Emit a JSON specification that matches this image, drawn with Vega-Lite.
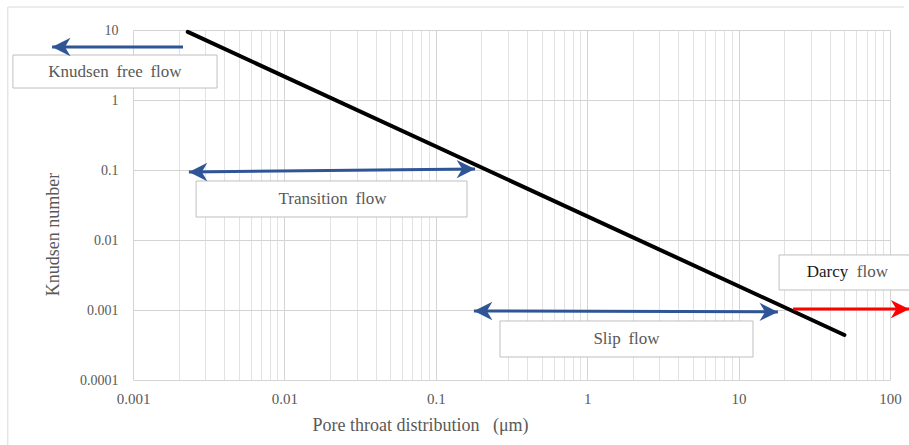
{
  "$schema": "https://vega.github.io/schema/vega-lite/v6.json",
  "width": 757,
  "height": 350,
  "autosize": {"type": "none"},
  "padding": {"left": 133, "top": 30, "right": 19, "bottom": 65},
  "background": "white",
  "config": {"view": {"stroke": null}, "font": "Liberation Serif"},
  "datasets": {
    "frame": [
      {"x": 0.000149, "x2": 123.7, "y": 21.3, "y2": 21.3},
      {"x": 0.000149, "x2": 0.000149, "y": 21.3, "y2": 0.000001}
    ],
    "boxes": [
      {"box": "Knudsen", "x": 0.000161, "x2": 0.00359, "y": 4.39, "y2": 1.483},
      {"box": "Transition", "x": 0.00261, "x2": 0.1607, "y": 0.0697, "y2": 0.0213},
      {"box": "Slip", "x": 0.2655, "x2": 12.45, "y": 0.000697, "y2": 0.000213},
      {"box": "Darcy", "x": 18.5, "x2": 200, "y": 0.00611, "y2": 0.00193}
    ],
    "curve": [
      {"x": 0.0023, "y": 9.4},
      {"x": 50, "y": 0.00044}
    ],
    "arrows": [
      {"arrow": "Knudsen", "x": 0.000292, "y": 5.71},
      {"arrow": "Knudsen", "x": 0.00214, "y": 5.71},
      {"arrow": "Transition", "x": 0.00234, "y": 0.0936},
      {"arrow": "Transition", "x": 0.1817, "y": 0.103},
      {"arrow": "Slip", "x": 0.1786, "y": 0.00097},
      {"arrow": "Slip", "x": 18.2, "y": 0.00094},
      {"arrow": "Darcy", "x": 22.9, "y": 0.00103},
      {"arrow": "Darcy", "x": 134, "y": 0.00103}
    ],
    "heads": [
      {"arrow": "Knudsen", "dir": "left", "x": 0.000292, "y": 5.71},
      {"arrow": "Transition", "dir": "left", "x": 0.00234, "y": 0.0936},
      {"arrow": "Transition", "dir": "right", "x": 0.1817, "y": 0.103},
      {"arrow": "Slip", "dir": "left", "x": 0.1786, "y": 0.00097},
      {"arrow": "Slip", "dir": "right", "x": 18.2, "y": 0.00094},
      {"arrow": "Darcy", "dir": "right", "x": 134, "y": 0.00103}
    ],
    "labels": [
      {"label": "Knudsen\u2009 free\u2009 flow", "x": 0.00076, "y": 2.55},
      {"label": "Transition\u2009 flow", "x": 0.0208, "y": 0.03853},
      {"label": "Slip\u2009 flow", "x": 1.818, "y": 0.000385},
      {"label": "flow", "x": 76.5, "y": 0.00349}
    ],
    "darklabels": [
      {"label": "Darcy", "x": 38.6, "y": 0.00349}
    ]
  },
  "encoding": {
    "x": {
      "field": "x",
      "type": "quantitative",
      "scale": {"type": "log", "domain": [0.001, 100], "nice": false, "zero": false},
      "axis": {
        "title": "Pore throat distribution \u00a0\u00a0(\u03bcm)",
        "values": [0.001, 0.002, 0.003, 0.004, 0.005, 0.006, 0.007, 0.008, 0.009,
                   0.01, 0.02, 0.03, 0.04, 0.05, 0.06, 0.07, 0.08, 0.09,
                   0.1, 0.2, 0.3, 0.4, 0.5, 0.6, 0.7, 0.8, 0.9,
                   1, 2, 3, 4, 5, 6, 7, 8, 9,
                   10, 20, 30, 40, 50, 60, 70, 80, 90, 100],
        "format": "~g",
        "labelExpr": "indexof([0.001, 0.01, 0.1, 1, 10, 100], datum.value) >= 0 ? datum.label : ''",
        "grid": true,
        "gridColor": {"condition": {"test": "indexof([0.001, 0.01, 0.1, 1, 10, 100], datum.value) >= 0", "value": "#d4d4d4"}, "value": "#e2e2e2"},
        "gridWidth": 1,
        "ticks": false,
        "domain": false,
        "labelFlush": false,
        "labelOverlap": false,
        "labelBound": false,
        "labelPadding": 11,
        "labelFont": "Liberation Serif",
        "labelFontSize": 15,
        "labelColor": "#595959",
        "titleFont": "Liberation Serif",
        "titleFontSize": 18,
        "titleFontWeight": "normal",
        "titleColor": "#595959",
        "titleX": 287,
        "titleY": 50,
        "titleBaseline": "alphabetic",
        "titleAlign": "center"
      }
    },
    "y": {
      "field": "y",
      "type": "quantitative",
      "scale": {"type": "log", "domain": [0.0001, 10], "nice": false, "zero": false},
      "axis": {
        "title": "Knudsen number",
        "values": [0.0001, 0.001, 0.01, 0.1, 1, 10],
        "format": "~g",
        "grid": true,
        "gridColor": "#d4d4d4",
        "gridWidth": 1,
        "ticks": false,
        "domain": false,
        "labelFlush": false,
        "labelOverlap": false,
        "labelBound": false,
        "labelPadding": 15,
        "labelFont": "Liberation Serif",
        "labelFontSize": 14,
        "labelColor": "#595959",
        "titleFont": "Liberation Serif",
        "titleFontSize": 18,
        "titleFontWeight": "normal",
        "titleColor": "#595959",
        "titleX": -75,
        "titleY": 204,
        "titleAngle": -90,
        "titleBaseline": "alphabetic",
        "titleAlign": "center"
      }
    }
  },
  "layer": [
    {
      "data": {"name": "frame"},
      "mark": {"type": "rule", "color": "#d9d9d9", "strokeWidth": 1},
      "encoding": {
        "x2": {"field": "x2"},
        "y2": {"field": "y2"}
      }
    },
    {
      "data": {"name": "boxes"},
      "mark": {"type": "rect", "fill": "white", "stroke": "#bfbfbf", "strokeWidth": 1},
      "encoding": {
        "x2": {"field": "x2"},
        "y2": {"field": "y2"}
      }
    },
    {
      "data": {"name": "curve"},
      "mark": {"type": "line", "color": "black", "strokeWidth": 4, "strokeCap": "round"},
      "encoding": {}
    },
    {
      "data": {"name": "arrows"},
      "mark": {"type": "line", "strokeWidth": 3},
      "encoding": {
        "color": {
          "field": "arrow",
          "type": "nominal",
          "scale": {"domain": ["Knudsen", "Transition", "Slip", "Darcy"], "range": ["#2F5597", "#2F5597", "#2F5597", "#FF0000"]},
          "legend": null
        }
      }
    },
    {
      "data": {"name": "heads"},
      "mark": {"type": "point", "filled": true, "opacity": 1, "size": 340, "strokeWidth": 0},
      "encoding": {
        "color": {
          "field": "arrow",
          "type": "nominal",
          "scale": {"domain": ["Knudsen", "Transition", "Slip", "Darcy"], "range": ["#2F5597", "#2F5597", "#2F5597", "#FF0000"]},
          "legend": null
        },
        "shape": {
          "field": "dir",
          "type": "nominal",
          "scale": {"domain": ["left", "right"], "range": ["M0,0L2,-1L1.4,0L2,1Z", "M0,0L-2,-1L-1.4,0L-2,1Z"]},
          "legend": null
        }
      }
    },
    {
      "data": {"name": "labels"},
      "mark": {"type": "text", "font": "Liberation Serif", "fontSize": 17, "color": "#595959", "align": "center", "baseline": "middle"},
      "encoding": {"text": {"field": "label"}}
    },
    {
      "data": {"name": "darklabels"},
      "mark": {"type": "text", "font": "Liberation Serif", "fontSize": 17, "color": "#1a1a1a", "align": "center", "baseline": "middle"},
      "encoding": {"text": {"field": "label"}}
    }
  ]
}
